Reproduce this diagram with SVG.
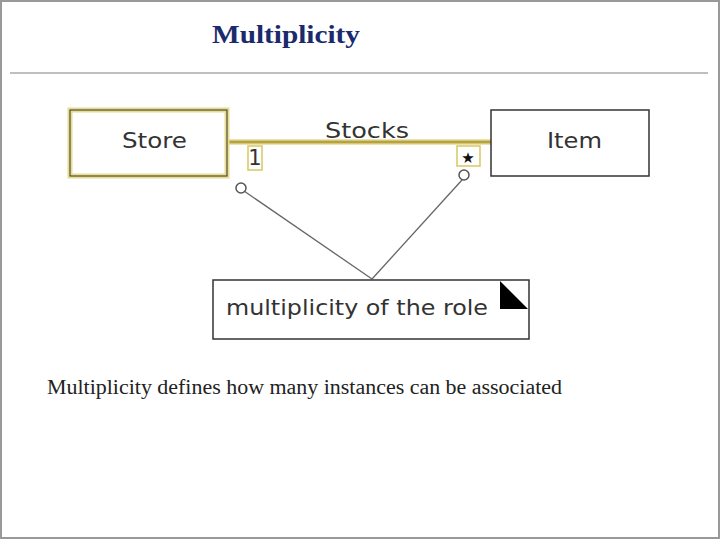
<svg xmlns="http://www.w3.org/2000/svg" width="720" height="539" viewBox="0 0 720 539">
<style>
.box{fill:#fff;stroke:#333;stroke-width:1.5}
.lbl{font-family:"DejaVu Sans",sans-serif;font-size:21px;fill:#333}
.conn{stroke:#666;stroke-width:1.3;fill:none}
</style>
<rect x="0" y="0" width="720" height="539" fill="#fff"/>
<rect x="1" y="1" width="718" height="537" fill="none" stroke="#999" stroke-width="2"/>
<text x="212" y="43" textLength="148" lengthAdjust="spacingAndGlyphs" font-family="Liberation Serif,serif" font-weight="bold" font-size="26" fill="#1a2a6c">Multiplicity</text>
<line x1="10" y1="73" x2="708" y2="73" stroke="#aaa" stroke-width="1.5"/>
<g id="connectors">
<line x1="227" y1="142" x2="491" y2="142" stroke="#d8c868" stroke-width="5"/>
<line x1="227" y1="142" x2="491" y2="142" stroke="#8a7a3a" stroke-width="1"/>
<text x="325" y="138" textLength="84" lengthAdjust="spacingAndGlyphs" class="lbl">Stocks</text>
<rect x="248" y="146" width="14" height="24" fill="#fff" stroke="#d8c860" stroke-width="1.5"/>
<text x="255" y="165" text-anchor="middle" class="lbl" font-size="17">1</text>
<rect x="457" y="146" width="23" height="20" fill="#fff" stroke="#d8c860" stroke-width="1.5"/>
<text x="468" y="163" text-anchor="middle" font-family="DejaVu Sans,sans-serif" font-size="15" fill="#111">★</text>
<line class="conn" x1="244" y1="191" x2="372" y2="279"/>
<line class="conn" x1="462" y1="180" x2="372" y2="279"/>
<circle cx="241" cy="188" r="5" fill="#fff" stroke="#555" stroke-width="1.5"/>
<circle cx="464" cy="175" r="5" fill="#fff" stroke="#555" stroke-width="1.5"/>
</g>
<g id="store">
<rect x="70" y="110" width="157" height="66" fill="#fff" stroke="#e8dc90" stroke-width="5"/>
<rect x="70" y="110" width="157" height="66" fill="none" stroke="#333" stroke-width="1"/>
<text x="122" y="148" textLength="65" lengthAdjust="spacingAndGlyphs" class="lbl">Store</text>
</g>
<g id="item">
<rect class="box" x="491" y="110" width="158" height="66"/>
<text x="547" y="148" textLength="55" lengthAdjust="spacingAndGlyphs" class="lbl">Item</text>
</g>
<g id="note">
<rect class="box" x="213" y="280" width="316" height="59"/>
<polygon points="500,281 528,309 500,309" fill="#000"/>
<text x="226" y="315" textLength="262" lengthAdjust="spacingAndGlyphs" class="lbl">multiplicity of the role</text>
</g>
<text x="47" y="394" textLength="515" lengthAdjust="spacingAndGlyphs" font-family="Liberation Serif,serif" font-size="20" fill="#222">Multiplicity defines how many instances can be associated</text>
</svg>
